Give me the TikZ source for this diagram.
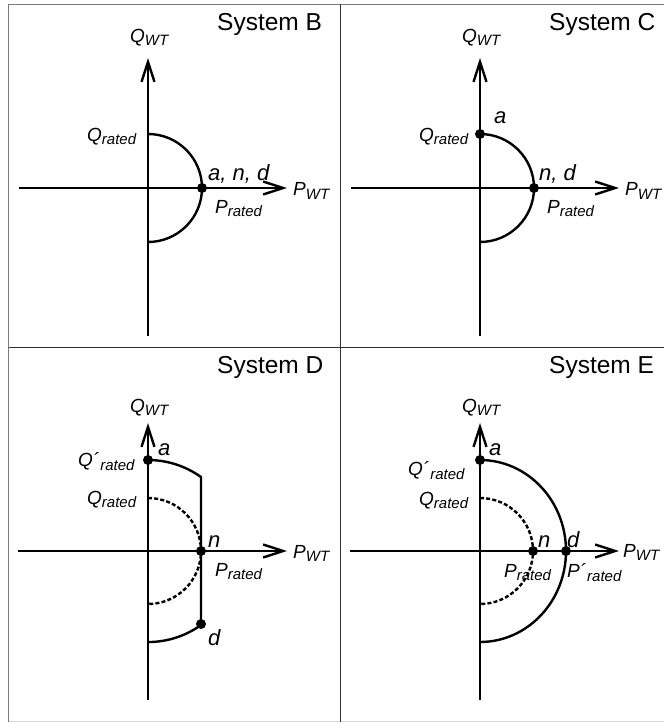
\documentclass[tikz,border=0pt]{standalone}
\usepackage{fontspec}
\setmainfont{Liberation Sans}
\usetikzlibrary{arrows.meta}
\newcommand{\lsub}[1]{\raisebox{-3pt}{\fontsize{15}{16}\selectfont #1}}
\newcommand{\lsubb}[1]{\raisebox{-4pt}{\fontsize{15}{16}\selectfont #1}}
\definecolor{outerc}{HTML}{7A7A7A}
\definecolor{innerc}{HTML}{303030}
\definecolor{lightc}{HTML}{D8D8D8}
\begin{document}
\begin{tikzpicture}[x=1pt,y=-1pt,
 axis/.style={line width=2.4pt,-{Straight Barb[length=20pt,width=13pt,line width=2.4pt]}},
 curve/.style={line width=2.4pt},
 dcurve/.style={line width=2.4pt,dash pattern=on 4pt off 2.2pt},
 lbl/.style={font=\fontsize{19}{21}\selectfont\itshape, inner sep=0pt, anchor=base west},
 ptl/.style={font=\fontsize{22}{24}\selectfont\itshape, inner sep=0pt, anchor=base west},
 sys/.style={font=\fontsize{24.5}{27}\selectfont, inner sep=0pt, anchor=base west},
 dot/.style={circle, fill=black, inner sep=0pt, minimum size=10pt},
]
\useasboundingbox (0,0) rectangle (664,722);
% frame
\draw[outerc,line width=1.2pt] (8.5,722) -- (8.5,4.5) -- (664,4.5);
\draw[lightc,line width=1pt] (8.5,721) -- (664,721);
\draw[innerc,line width=1pt] (340,4.5) -- (340,722);
\draw[innerc,line width=1pt] (8.5,347) -- (664,347);

% ---------- System B ----------
\coordinate (Bl) at (19,188); \coordinate (Br) at (287,188);
\coordinate (Bb) at (148,336); \coordinate (Bt) at (148,58);
\coordinate (Bq) at (148,134);
\draw[axis] (Bl) -- (Br);
\draw[axis] (Bb) -- (Bt);
\draw[curve] (Bq) arc[start angle=90,end angle=-90,radius=54pt];
\node[dot] (Bn) at (202,188) {};
\node[sys] (Bsys) at (217,30.5) {System B};
\node[lbl] (BQ) at (130,43) {Q\lsub{WT}};
\node[lbl] (BQr) at (87,142) {Q\lsub{rated}};
\node[ptl] (Band) at (208,180) {a, n, d};
\node[lbl] (BPr) at (215,213) {P\lsub{rated}};
\node[lbl] (BP) at (293,196) {P\lsub{WT}};

% ---------- System C ----------
\coordinate (Cl) at (351,188); \coordinate (Cr) at (619,188);
\coordinate (Cb) at (480,336); \coordinate (Ct) at (480,58);
\draw[axis] (Cl) -- (Cr);
\draw[axis] (Cb) -- (Ct);
\draw[curve] (480,134) arc[start angle=90,end angle=-90,radius=54pt];
\node[dot] (Ca) at (480,134) {};
\node[dot] (Cn) at (534,188) {};
\node[sys] (Csys) at (549,30.5) {System C};
\node[lbl] (CQ) at (462,43) {Q\lsub{WT}};
\node[lbl] (CQr) at (419,142) {Q\lsub{rated}};
\node[ptl] (Cal) at (494,124) {a};
\node[ptl] (Cnd) at (539,180) {n, d};
\node[lbl] (CPr) at (547,213) {P\lsub{rated}};
\node[lbl] (CP) at (625,196) {P\lsub{WT}};

% ---------- System D ----------
\coordinate (Dl) at (18,551); \coordinate (Dr) at (287,551);
\coordinate (Db) at (148,700); \coordinate (Dt) at (148,423);
\draw[axis] (Dl) -- (Dr);
\draw[axis] (Db) -- (Dt);
\draw[dcurve] (148,498) arc[start angle=90,end angle=-90,radius=53pt];
\draw[curve] (148,460) arc[start angle=90,end angle=54.39,radius=91pt] -- ++(0,148)
   arc[start angle=-54.39,end angle=-90,radius=91pt];
\node[dot] (Da) at (148,460) {};
\node[dot] (Dn) at (201,551) {};
\node[dot] (Dd) at (201,624) {};
\node[sys] (Dsys) at (217,373) {System D};
\node[lbl] (DQ) at (130,412) {Q\lsub{WT}};
\node[ptl] (Dal) at (158,455) {a};
\node[lbl] (DQp) at (78,466) {Q´\kern1pt\lsubb{rated}};
\node[lbl] (DQr) at (87,504) {Q\lsub{rated}};
\node[ptl] (Dnl) at (208,547) {n};
\node[lbl] (DPr) at (215,576) {P\lsub{rated}};
\node[lbl] (DP) at (293,558) {P\lsub{WT}};
\node[ptl] (Ddl) at (208,645) {d};

% ---------- System E ----------
\coordinate (El) at (350,551); \coordinate (Er) at (619,551);
\coordinate (Eb) at (480,700); \coordinate (Et) at (480,423);
\draw[axis] (El) -- (Er);
\draw[axis] (Eb) -- (Et);
\draw[dcurve] (480,498) arc[start angle=90,end angle=-90,radius=53pt];
\draw[curve] (480,460) arc[start angle=90,end angle=-90,x radius=86pt,y radius=91pt];
\node[dot] (Ea) at (480,460) {};
\node[dot] (En) at (533,551) {};
\node[dot] (Ed) at (566,551) {};
\node[sys] (Esys) at (549,373) {System E};
\node[lbl] (EQ) at (462,412) {Q\lsub{WT}};
\node[ptl] (Eal) at (489,455) {a};
\node[lbl] (EQp) at (408,475) {Q´\kern1pt\lsubb{rated}};
\node[lbl] (EQr) at (419,505) {Q\lsub{rated}};
\node[ptl] (Enl) at (538,547) {n};
\node[ptl] (Edl) at (567,547) {d};
\node[lbl] (EPr) at (504,577) {P\lsub{rated}};
\node[lbl] (EPp) at (567,577) {P´\kern1pt\lsubb{rated}};
\node[lbl] (EP) at (623,557) {P\lsub{WT}};
\end{tikzpicture}
\end{document}
